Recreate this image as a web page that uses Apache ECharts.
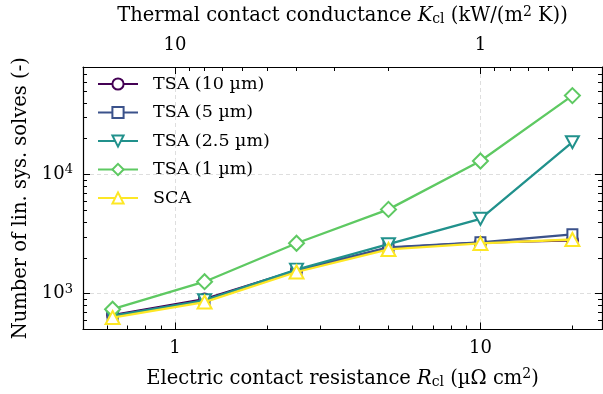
<!DOCTYPE html>
<html><head><meta charset="utf-8">
<script src="https://cdn.jsdelivr.net/npm/echarts@6/dist/echarts.min.js"></script>
<style>html,body{margin:0;padding:0;background:#fff}#c{width:603px;height:394px}</style>
</head><body><div id="c"></div>
<script>
// Data
const resistance = [0.625, 1.25, 2.5, 5, 10, 20];
const tsa10 = [660, 900, 1570, 2420, 2680, 2800];
const tsa5 = [650, 880, 1570, 2450, 2700, 3150];
const tsa25 = [650, 880, 1590, 2600, 4250, 18700];
const tsa1 = [740, 1260, 2650, 5100, 13000, 46000];
const sca = [630, 850, 1520, 2350, 2640, 2850];
const seriesNames = ['TSA (10 µm)', 'TSA (5 µm)', 'TSA (2.5 µm)', 'TSA (1 µm)', 'SCA'];
// Tick labels / positions (axis values)
const xMajorTicks = [1, 10];
const xMinorTicks = [0.6, 0.7, 0.8, 0.9, 2, 3, 4, 5, 6, 7, 8, 9, 20];
const kMajorTicks = [1, 10];
const kMinorTicks = [0.5, 0.6, 0.7, 0.8, 0.9, 2, 3, 4, 5, 6, 7, 8, 9];
const yMajorTicks = [1000, 10000];
const yMinorTicks = [600, 700, 800, 900, 2000, 3000, 4000, 5000, 6000, 7000, 8000, 9000,
  20000, 30000, 40000, 50000, 60000, 70000];

const FONT = 'DejaVu Serif';
const FS = 18;      // tick labels
const NFS = 19.5;   // axis names
const LFS = 17.5;   // legend
const SFS = 14;     // sub/superscripts
const colors = ['#440154', '#3b528b', '#21918c', '#5ec962', '#fde725'];
const symbols = ['circle', 'rect', 'triangle', 'diamond', 'triangle'];
const symbolSizes = [11, 10, [13, 12], 15, [14, 13]];
const rotates = [0, 0, 180, 0, 0];
const allData = [tsa10, tsa5, tsa25, tsa1, sca];

const xMin = 0.5, xMax = 25, yMin = 500, yMax = 80000;
const MAJ = 7, MIN = 4;
const richName = {
  i: {fontFamily: FONT, fontSize: NFS, fontStyle: 'italic', color: '#000'},
  sub: {fontFamily: FONT, fontSize: SFS, color: '#000', padding: [7, 0, 0, 0]},
  sup: {fontFamily: FONT, fontSize: SFS, color: '#000', padding: [0, 0, 8, 0]},
  n: {fontFamily: FONT, fontSize: NFS, color: '#000'}
};

function xAxisDef(opts) {
  return Object.assign({
    type: 'log', logBase: 10, min: xMin, max: xMax, position: 'bottom',
    axisLine: {show: true, onZero: false, lineStyle: {color: '#000', width: 1.2}},
    axisTick: {show: true, inside: true, length: MAJ, lineStyle: {color: '#000', width: 1}},
    axisLabel: {show: false},
    splitLine: {show: false},
    minorTick: {show: false}
  }, opts);
}
function yAxisDef(opts) {
  return Object.assign({
    type: 'log', logBase: 10, min: yMin, max: yMax, position: 'left',
    axisLine: {show: true, onZero: false, lineStyle: {color: '#000', width: 1.2}},
    axisTick: {show: true, inside: true, length: MAJ, lineStyle: {color: '#000', width: 1}},
    axisLabel: {show: false},
    splitLine: {show: false},
    minorTick: {show: false}
  }, opts);
}
const grid = {left: 83, right: 1, top: 62, bottom: 63, containLabel: false};
const gridLine = {show: true, lineStyle: {color: '#dedede', type: [4, 3], width: 1}};

const xAxes = [
  xAxisDef({
    axisTick: {show: true, inside: true, length: MAJ, customValues: xMajorTicks, lineStyle: {color: '#000', width: 1}},
    axisLabel: {show: true, customValues: xMajorTicks, margin: 10, fontFamily: FONT, fontSize: FS, color: '#000',
      formatter: v => String(Math.round(v))},
    splitLine: gridLine,
    name: '{n|Electric contact resistance }{i|R}{sub|cl}{n| (µΩ cm}{sup|2}{n|)}',
    nameLocation: 'middle', nameGap: 38,
    nameTextStyle: {rich: richName}
  }),
  xAxisDef({
    axisLine: {show: false},
    axisTick: {show: true, inside: true, length: MIN, customValues: xMinorTicks, lineStyle: {color: '#000', width: 1}}
  }),
  xAxisDef({
    position: 'top', min: 10 / xMax, max: 10 / xMin, inverse: true,
    axisTick: {show: true, inside: true, length: MAJ, customValues: kMajorTicks, lineStyle: {color: '#000', width: 1}},
    axisLabel: {show: true, customValues: kMajorTicks, margin: 13, fontFamily: FONT, fontSize: FS, color: '#000',
      formatter: v => String(Math.round(v))},
    name: '{n|Thermal contact conductance }{i|K}{sub|cl}{n| (kW/(m}{sup|2}{n| K))}',
    nameLocation: 'middle', nameGap: 40,
    nameTextStyle: {rich: richName}
  }),
  xAxisDef({
    position: 'top', min: 10 / xMax, max: 10 / xMin, inverse: true,
    axisLine: {show: false},
    axisTick: {show: true, inside: true, length: MIN, customValues: kMinorTicks, lineStyle: {color: '#000', width: 1}}
  })
];
const yAxes = [
  yAxisDef({
    axisTick: {show: true, inside: true, length: MAJ, customValues: yMajorTicks, lineStyle: {color: '#000', width: 1}},
    axisLabel: {show: true, customValues: yMajorTicks, margin: 10, color: '#000',
      formatter: v => '{b|10}{s|' + Math.round(Math.log10(v)) + '}',
      rich: {b: {fontFamily: FONT, fontSize: FS, color: '#000'},
             s: {fontFamily: FONT, fontSize: 13, color: '#000', padding: [0, 0, 9, 0]}}},
    splitLine: gridLine,
    name: 'Number of lin. sys. solves (-)',
    nameLocation: 'middle', nameGap: 52,
    nameTextStyle: {fontFamily: FONT, fontSize: NFS, color: '#000'}
  }),
  yAxisDef({
    axisLine: {show: false},
    axisTick: {show: true, inside: true, length: MIN, customValues: yMinorTicks, lineStyle: {color: '#000', width: 1}}
  }),
  yAxisDef({
    position: 'right',
    axisTick: {show: true, inside: true, length: MAJ, customValues: yMajorTicks, lineStyle: {color: '#000', width: 1}}
  }),
  yAxisDef({
    position: 'right', axisLine: {show: false},
    axisTick: {show: true, inside: true, length: MIN, customValues: yMinorTicks, lineStyle: {color: '#000', width: 1}}
  })
];

const series = allData.map((vals, i) => ({
  name: seriesNames[i],
  type: 'line',
  xAxisIndex: 0, yAxisIndex: 0,
  data: resistance.map((r, j) => [r, vals[j]]),
  symbol: symbols[i],
  symbolSize: symbolSizes[i],
  symbolRotate: rotates[i],
  showAllSymbol: true,
  lineStyle: {color: colors[i], width: 2.3},
  itemStyle: {color: '#fff', borderColor: colors[i], borderWidth: 2},
  emphasis: {disabled: true},
  animation: false,
  z: 2 + i
}));

const chart = echarts.init(document.getElementById('c'), null, {renderer: 'canvas'});
chart.setOption({
  animation: false,
  backgroundColor: '#fff',
  grid: grid,
  xAxis: xAxes,
  yAxis: yAxes,
  legend: {
    orient: 'vertical', left: 92, top: 70, itemGap: 10.5,
    itemWidth: 40, itemHeight: 14,
    data: seriesNames,
    textStyle: {fontFamily: FONT, fontSize: LFS, color: '#000', padding: [0, 0, 0, 10]}
  },
  series: series
});
</script></body></html>
